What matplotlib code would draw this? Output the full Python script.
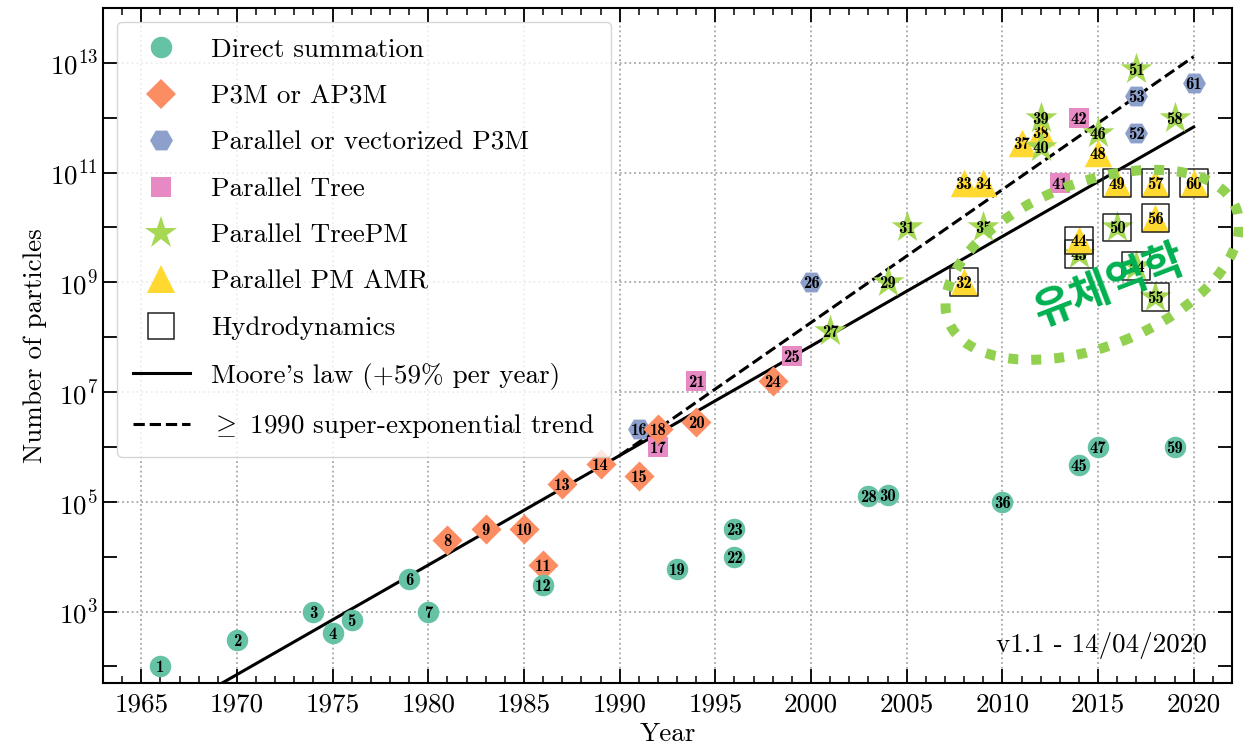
import matplotlib
matplotlib.use('Agg')
import matplotlib.pyplot as plt
import matplotlib.ticker as mticker
import matplotlib.transforms as mtransforms
from matplotlib.lines import Line2D
from matplotlib.patches import Ellipse

plt.rcParams['font.family'] = 'serif'
plt.rcParams['font.serif'] = ['cmr10']
plt.rcParams['mathtext.fontset'] = 'cm'
plt.rcParams['axes.formatter.use_mathtext'] = True
plt.rcParams['axes.unicode_minus'] = False

# ---- data ----
sim_id = list(range(1, 62))
years = [1966, 1970, 1974, 1975, 1976, 1979, 1980, 1981, 1983, 1985,
         1986, 1986, 1987, 1989, 1991, 1991, 1992, 1992, 1993, 1994,
         1994, 1996, 1996, 1998, 1999, 2000, 2001, 2003, 2004, 2004,
         2005, 2008, 2008, 2009, 2009, 2010, 2011, 2012, 2012, 2012,
         2013, 2014, 2014, 2014, 2014, 2015, 2015, 2015, 2016, 2016,
         2017, 2017, 2017, 2017, 2018, 2018, 2018, 2019, 2019, 2020,
         2020]
particles = [1e2, 3e2, 1e3, 4e2, 7e2, 4e3, 1e3, 2e4, 3.2e4, 3.2e4,
             7e3, 3e3, 2.1e5, 5e5, 3e5, 2.1e6, 1e6, 2.1e6, 6e3, 2.9e6,
             1.6e7, 1e4, 3.2e4, 1.6e7, 4.5e7, 1e9, 1.3e8, 1.3e5, 1e9, 1.35e5,
             1e10, 1e9, 6.5e10, 6.5e10, 1e10, 1e5, 3.5e11, 5.6e11, 1e12, 2.9e11,
             6.5e10, 1e12, 3.3e9, 5.8e9, 4.6e5, 5.2e11, 1e6, 2.3e11, 6.5e10, 1e10,
             7.7e12, 5.2e11, 2.5e12, 2e9, 5.5e8, 1.5e10, 6.5e10, 1e12, 1e6, 6.5e10,
             4.3e12]
# D direct, P P3M, V parallel P3M, T parallel tree, M TreePM, A PM AMR
methods = list('DDDDDDDPPP'
               'PDPPPVTPDP'
               'TDDPTVMDMD'
               'MAAAMDAAMM'
               'TTMADMDAAM'
               'MVVMMAAMDA'
               'V')
hydro = [32, 43, 44, 49, 50, 54, 55, 56, 57, 60]

moore_years = [1969, 2020]
moore_n = [4.5e1, 6.8e11]
trend_years = [1990, 2020]
trend_n = [7e5, 1.3e13]

method_names = {'D': 'Direct summation', 'P': 'P3M or AP3M',
                'V': 'Parallel or vectorized P3M', 'T': 'Parallel Tree',
                'M': 'Parallel TreePM', 'A': 'Parallel PM AMR'}
method_order = ['D', 'P', 'V', 'T', 'M', 'A']

# ---- style ----
colors = {'D': '#66c2a5', 'P': '#fc8d62', 'V': '#8da0cb',
          'T': '#e78ac3', 'M': '#a6d854', 'A': '#ffd92f'}
markers = {'D': 'o', 'P': 'D', 'V': 'H', 'T': 's', 'M': '*', 'A': '^'}
sizes = {'D': 240, 'P': 235, 'V': 272, 'T': 228, 'M': 585, 'A': 392}

fig = plt.figure(figsize=(12.43, 7.45), dpi=100)
ax = fig.add_axes([103/1243, 1 - 683/745, 1129/1243, 675/745])
ax.set_yscale('log')
ax.set_xlim(1963, 2022)
ax.set_ylim(5e1, 1e14)

ax.plot(moore_years, moore_n, color='k', lw=2.2, zorder=2)
ax.plot(trend_years, trend_n, color='k', lw=2.2, ls='--', zorder=2)

for i, (k, yr, n, m) in enumerate(zip(sim_id, years, particles, methods)):
    z = 3 + i * 0.01
    ax.scatter(yr, n, marker=markers[m], s=sizes[m], c=colors[m],
               linewidths=0, zorder=z)
    if k in hydro:
        ax.scatter(yr, n, marker='s', s=400, facecolors='none',
                   edgecolors='#222222', linewidths=1.1, zorder=z + 0.002)
    ax.text(yr, n, str(k), ha='center', va='center_baseline', fontsize=12,
            family='cmb10', zorder=z + 0.005)

ax.xaxis.set_major_locator(mticker.MultipleLocator(5))
ax.xaxis.set_minor_locator(mticker.MultipleLocator(1))
ax.xaxis.set_major_formatter(mticker.FormatStrFormatter('%d'))
ax.yaxis.set_major_locator(mticker.FixedLocator([10.0**e for e in range(3, 14, 2)]))
ax.yaxis.set_minor_locator(mticker.FixedLocator([10.0**e for e in range(2, 15, 2)]))
ax.yaxis.set_minor_formatter(mticker.NullFormatter())
ax.tick_params(which='both', direction='in', top=True, right=True,
               labelsize=19.5)
ax.tick_params(which='major', length=10, width=1.3)
ax.tick_params(axis='x', which='major', pad=7)
ax.tick_params(axis='x', which='minor', length=5, width=1.1)
ax.tick_params(axis='y', which='minor', length=10, width=1.3)
for sp in ax.spines.values():
    sp.set_linewidth(1.5)
ax.grid(True, which='major', ls=':', color='0.65', lw=1.3, zorder=0)
ax.set_axisbelow(True)

ax.set_xlabel('Year', fontsize=19.5, labelpad=4)
ax.set_ylabel('Number of particles', fontsize=19.5, labelpad=2)

ax.text(0.978, 0.046, 'v1.1 - 14/04/2020', transform=ax.transAxes,
        ha='right', va='baseline', fontsize=19.5)

handles = []
for m in method_order:
    handles.append(Line2D([], [], ls='none', marker=markers[m],
                          markersize=sizes[m] ** 0.5, color=colors[m],
                          markeredgewidth=0, label=method_names[m]))
handles.append(Line2D([], [], ls='none', marker='s', markersize=19,
                      markerfacecolor='none', markeredgecolor='#222222',
                      markeredgewidth=1.1, label='Hydrodynamics'))
handles.append(Line2D([], [], color='k', lw=2.2,
                      label="Moore's law (+59% per year)"))
handles.append(Line2D([], [], color='k', lw=2.2, ls='--',
                      label=r'$\geq\ 1990$ super-exponential trend'))
ax.legend(handles=handles, loc='upper left', fontsize=19.5,
          labelspacing=0.83, handlelength=2.1, handletextpad=0.8,
          borderpad=0.6)

# highlight annotation
ax.figure.canvas.draw()
cx, cy = ax.transData.transform((2014.7, 10**9.32))
ell = Ellipse((cx, cy), 309, 164, angle=21.5, fill=False,
              edgecolor='#92D050', linewidth=7.2, linestyle=(0, (1, 1.3)),
              transform=mtransforms.IdentityTransform(), clip_on=False,
              zorder=10)
fig.add_artist(ell)
fig.text(2015.6, 10**8.93, '유체역학', transform=ax.transData,
         family='Noto Sans CJK KR', weight='bold', fontsize=31,
         color='#00B050', rotation=21, ha='center', va='center',
         rotation_mode='anchor', zorder=11)

fig.savefig('out.png', dpi=100)
